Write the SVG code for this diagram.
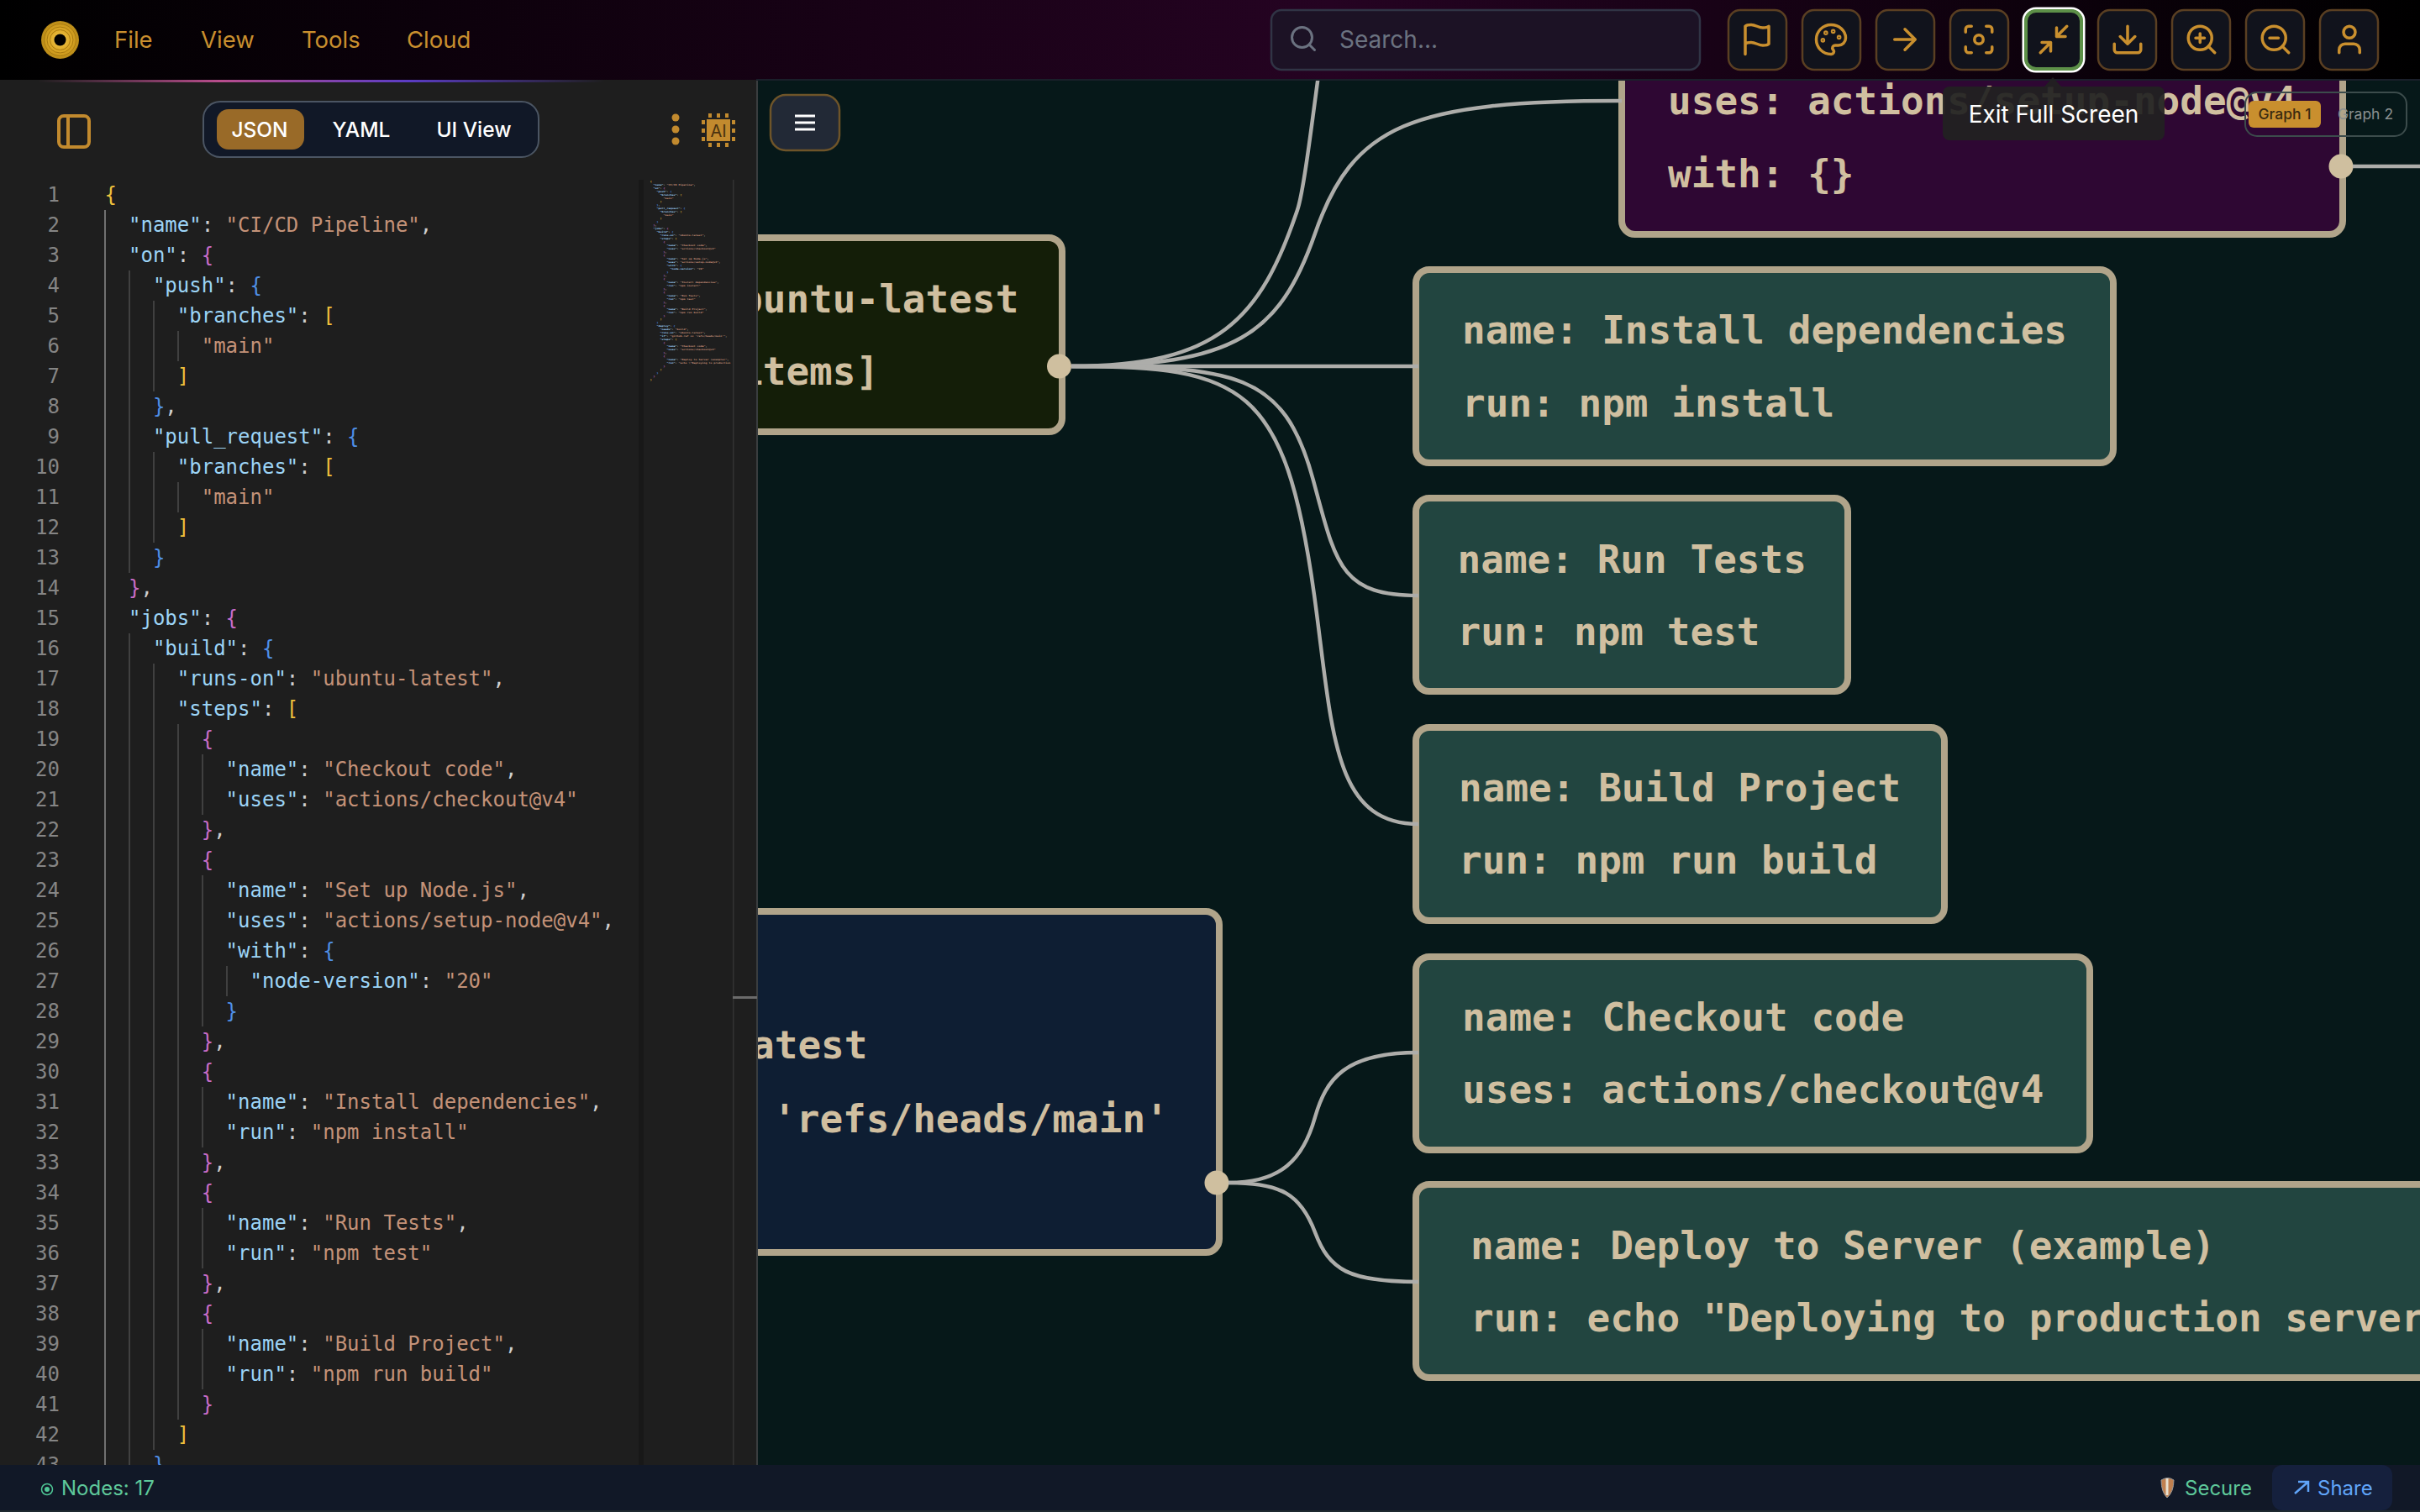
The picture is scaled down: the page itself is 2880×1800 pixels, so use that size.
<svg xmlns="http://www.w3.org/2000/svg" width="2880" height="1800" viewBox="0 0 2880 1800">
<style>
.ui{font-family:Inter,"Liberation Sans",sans-serif}
.menu{font-size:27.5px;font-weight:400;fill:#c98f2e}
.tab{font-size:24.5px;font-weight:500;fill:#fff;text-anchor:middle}
.nd{stroke:#b0a48a;stroke-width:8}
.step{fill:#224540}
.n{font-family:"DejaVu Sans Mono",monospace;font-weight:700;font-size:46px;fill:#d0bfa0}
.h{fill:#cfbf9f}
.edge{fill:none;stroke:#adadaa;stroke-width:4.5}
.btn{fill:#11131c;stroke:#5a3f22;stroke-width:2.5}
.ic{fill:none;stroke:#c98f2e;stroke-width:2;stroke-linecap:round;stroke-linejoin:round}
.code text{font-family:"DejaVu Sans Mono",monospace;font-size:24px;fill:#cfcfcf}
.ln{font-family:"DejaVu Sans Mono",monospace;font-size:24px;fill:#858585;text-anchor:end}
.code .k{fill:#9cd4f6}.code .s{fill:#c49278}.code .y{fill:#efc03c}.code .o{fill:#c86cc8}.code .b{fill:#4f8fe6}
.g1{stroke:#707070;stroke-width:2;fill:none}
.g2{stroke:#404040;stroke-width:2;fill:none}
</style>
<defs>
<linearGradient id="hdr" x1="0" x2="1" y1="0" y2="0"><stop offset="0" stop-color="#000"/><stop offset=".55" stop-color="#250322"/><stop offset="1" stop-color="#000"/></linearGradient>
<linearGradient id="hline" gradientUnits="userSpaceOnUse" x1="0" x2="900" y1="0" y2="0"><stop offset=".05" stop-color="#b84d8c" stop-opacity="0"/><stop offset=".29" stop-color="#b84d8c"/><stop offset=".54" stop-color="#5b3cc4"/><stop offset=".8" stop-color="#5b3cc4" stop-opacity="0"/></linearGradient>
<radialGradient id="gold"><stop offset=".3" stop-color="#e8b838"/><stop offset=".7" stop-color="#d4a020"/><stop offset="1" stop-color="#b88a18"/></radialGradient>
<clipPath id="codeclip"><rect x="0" y="210" width="760" height="1534"/></clipPath>
<clipPath id="miniclip"><rect x="766" y="210" width="106" height="1534"/></clipPath>
<g id="i-flag"><path d="M4 15s1-1 4-1 5 2 8 2 4-1 4-1V3s-1 1-4 1-5-2-8-2-4 1-4 1zM4 22v-7"/></g>
<g id="i-pal"><path d="M12 22a1 1 0 0 1 0-20 10 9 0 0 1 10 9 5 5 0 0 1-5 5h-2.25a1.75 1.75 0 0 0-1.4 2.8l.3.4a1.75 1.75 0 0 1-1.4 2.8z"/><circle cx="13.5" cy="6.5" r=".6"/><circle cx="17.5" cy="10.5" r=".6"/><circle cx="6.5" cy="12.5" r=".6"/><circle cx="8.5" cy="7.5" r=".6"/></g>
<g id="i-arr"><path d="M5 12h14M12 5l7 7-7 7"/></g>
<g id="i-foc"><path d="M3 7V5a2 2 0 0 1 2-2h2M17 3h2a2 2 0 0 1 2 2v2M21 17v2a2 2 0 0 1-2 2h-2M7 21H5a2 2 0 0 1-2-2v-2"/><circle cx="12" cy="12" r="3"/></g>
<g id="i-min"><path d="M4 14h6v6M20 10h-6V4M14 10l7-7M3 21l7-7"/></g>
<g id="i-dl"><path d="M21 15v4a2 2 0 0 1-2 2H5a2 2 0 0 1-2-2v-4M7 10l5 5 5-5M12 15V3"/></g>
<g id="i-zi"><circle cx="11" cy="11" r="8"/><path d="M21 21l-4.35-4.35M11 8v6M8 11h6"/></g>
<g id="i-zo"><circle cx="11" cy="11" r="8"/><path d="M21 21l-4.35-4.35M8 11h6"/></g>
<g id="i-usr"><path d="M19 21v-2a4 4 0 0 0-4-4H9a4 4 0 0 0-4 4v2"/><circle cx="12" cy="7" r="4"/></g>
<g id="c1" class="code">
<text x="124.6" y="240"><tspan class="y">{</tspan></text>
<text x="153" y="276"><tspan class="k">"name"</tspan>: <tspan class="s">"CI/CD Pipeline"</tspan>,</text>
<text x="153" y="312"><tspan class="k">"on"</tspan>: <tspan class="o">{</tspan></text>
<text x="181.9" y="348"><tspan class="k">"push"</tspan>: <tspan class="b">{</tspan></text>
<text x="210.8" y="384"><tspan class="k">"branches"</tspan>: <tspan class="y">[</tspan></text>
<text x="239.7" y="420"><tspan class="s">"main"</tspan></text>
<text x="210.8" y="456"><tspan class="y">]</tspan></text>
<text x="181.9" y="492"><tspan class="b">}</tspan>,</text>
<text x="181.9" y="528"><tspan class="k">"pull_request"</tspan>: <tspan class="b">{</tspan></text>
<text x="210.8" y="564"><tspan class="k">"branches"</tspan>: <tspan class="y">[</tspan></text>
<text x="239.7" y="600"><tspan class="s">"main"</tspan></text>
<text x="210.8" y="636"><tspan class="y">]</tspan></text>
<text x="181.9" y="672"><tspan class="b">}</tspan></text>
<text x="153" y="708"><tspan class="o">}</tspan>,</text>
<text x="153" y="744"><tspan class="k">"jobs"</tspan>: <tspan class="o">{</tspan></text>
<text x="181.9" y="780"><tspan class="k">"build"</tspan>: <tspan class="b">{</tspan></text>
<text x="210.8" y="816"><tspan class="k">"runs-on"</tspan>: <tspan class="s">"ubuntu-latest"</tspan>,</text>
<text x="210.8" y="852"><tspan class="k">"steps"</tspan>: <tspan class="y">[</tspan></text>
<text x="239.7" y="888"><tspan class="o">{</tspan></text>
<text x="268.6" y="924"><tspan class="k">"name"</tspan>: <tspan class="s">"Checkout code"</tspan>,</text>
<text x="268.6" y="960"><tspan class="k">"uses"</tspan>: <tspan class="s">"actions/checkout@v4"</tspan></text>
<text x="239.7" y="996"><tspan class="o">}</tspan>,</text>
<text x="239.7" y="1032"><tspan class="o">{</tspan></text>
<text x="268.6" y="1068"><tspan class="k">"name"</tspan>: <tspan class="s">"Set up Node.js"</tspan>,</text>
<text x="268.6" y="1104"><tspan class="k">"uses"</tspan>: <tspan class="s">"actions/setup-node@v4"</tspan>,</text>
<text x="268.6" y="1140"><tspan class="k">"with"</tspan>: <tspan class="b">{</tspan></text>
<text x="297.5" y="1176"><tspan class="k">"node-version"</tspan>: <tspan class="s">"20"</tspan></text>
<text x="268.6" y="1212"><tspan class="b">}</tspan></text>
<text x="239.7" y="1248"><tspan class="o">}</tspan>,</text>
<text x="239.7" y="1284"><tspan class="o">{</tspan></text>
<text x="268.6" y="1320"><tspan class="k">"name"</tspan>: <tspan class="s">"Install dependencies"</tspan>,</text>
<text x="268.6" y="1356"><tspan class="k">"run"</tspan>: <tspan class="s">"npm install"</tspan></text>
<text x="239.7" y="1392"><tspan class="o">}</tspan>,</text>
<text x="239.7" y="1428"><tspan class="o">{</tspan></text>
<text x="268.6" y="1464"><tspan class="k">"name"</tspan>: <tspan class="s">"Run Tests"</tspan>,</text>
<text x="268.6" y="1500"><tspan class="k">"run"</tspan>: <tspan class="s">"npm test"</tspan></text>
<text x="239.7" y="1536"><tspan class="o">}</tspan>,</text>
<text x="239.7" y="1572"><tspan class="o">{</tspan></text>
<text x="268.6" y="1608"><tspan class="k">"name"</tspan>: <tspan class="s">"Build Project"</tspan>,</text>
<text x="268.6" y="1644"><tspan class="k">"run"</tspan>: <tspan class="s">"npm run build"</tspan></text>
<text x="239.7" y="1680"><tspan class="o">}</tspan></text>
<text x="210.8" y="1716"><tspan class="y">]</tspan></text>
<text x="181.9" y="1752"><tspan class="b">}</tspan></text>
</g>
<g id="c2" class="code">
<text x="181.9" y="1788"><tspan class="k">"deploy"</tspan>: <tspan class="b">{</tspan></text>
<text x="210.8" y="1824"><tspan class="k">"needs"</tspan>: <tspan class="s">"build"</tspan>,</text>
<text x="210.8" y="1860"><tspan class="k">"runs-on"</tspan>: <tspan class="s">"ubuntu-latest"</tspan>,</text>
<text x="210.8" y="1896"><tspan class="k">"if"</tspan>: <tspan class="s">"github.ref == 'refs/heads/main'"</tspan>,</text>
<text x="210.8" y="1932"><tspan class="k">"steps"</tspan>: <tspan class="y">[</tspan></text>
<text x="239.7" y="1968"><tspan class="o">{</tspan></text>
<text x="268.6" y="2004"><tspan class="k">"name"</tspan>: <tspan class="s">"Checkout code"</tspan>,</text>
<text x="268.6" y="2040"><tspan class="k">"uses"</tspan>: <tspan class="s">"actions/checkout@v4"</tspan></text>
<text x="239.7" y="2076"><tspan class="o">}</tspan>,</text>
<text x="239.7" y="2112"><tspan class="o">{</tspan></text>
<text x="268.6" y="2148"><tspan class="k">"name"</tspan>: <tspan class="s">"Deploy to Server (example)"</tspan>,</text>
<text x="268.6" y="2184"><tspan class="k">"run"</tspan>: <tspan class="s">"echo \"Deploying to production</tspan></text>
<text x="239.7" y="2220"><tspan class="o">}</tspan></text>
<text x="210.8" y="2256"><tspan class="y">]</tspan></text>
<text x="181.9" y="2292"><tspan class="b">}</tspan></text>
<text x="153" y="2328"><tspan class="o">}</tspan></text>
<text x="124.6" y="2364"><tspan class="y">}</tspan></text>
</g>
</defs>

<rect id="canvas" x="0" y="0" width="2880" height="1800" fill="#061819"/>

<g id="nodes">
<g id="node-build"><rect class="nd" x="700" y="283" width="564" height="231" rx="16" fill="#141e08"/><text class="n" x="880" y="372">buntu-latest</text><text class="n" x="880" y="458">items]</text><circle class="h" cx="1260.5" cy="436" r="14.5"/></g>
<g id="node-setup"><rect class="nd" x="1930" y="47" width="858" height="232" rx="16" fill="#2e0733"/><text class="n" x="1985" y="136">uses: actions/setup-node@v4</text><text class="n" x="1985" y="223">with: {}</text><circle class="h" cx="2786" cy="198" r="14.5"/></g>
<g id="node-install"><rect class="nd step" x="1685" y="321" width="830" height="230" rx="16"/><text class="n" x="1740" y="409">name: Install dependencies</text><text class="n" x="1740" y="496">run: npm install</text></g>
<g id="node-tests"><rect class="nd step" x="1685" y="593" width="514" height="230" rx="16"/><text class="n" x="1734.5" y="682">name: Run Tests</text><text class="n" x="1734.5" y="768">run: npm test</text></g>
<g id="node-buildproj"><rect class="nd step" x="1685" y="866" width="629" height="230" rx="16"/><text class="n" x="1736" y="954">name: Build Project</text><text class="n" x="1736" y="1040">run: npm run build</text></g>
<g id="node-deployjob"><rect class="nd" x="700" y="1085" width="751" height="406" rx="16" fill="#0e1e33"/><text class="n" x="894" y="1260">atest</text><text class="n" x="920" y="1348">'refs/heads/main'</text><circle class="h" cx="1448" cy="1408" r="14.5"/></g>
<g id="node-checkout2"><rect class="nd step" x="1685" y="1139" width="802" height="230" rx="16"/><text class="n" x="1740" y="1227">name: Checkout code</text><text class="n" x="1740" y="1313">uses: actions/checkout@v4</text></g>
<g id="node-deploy"><rect class="nd step" x="1685" y="1410" width="1300" height="230" rx="16"/><text class="n" x="1750" y="1499">name: Deploy to Server (example)</text><text class="n" x="1750" y="1585">run: echo "Deploying to production server</text></g>
</g>

<g id="connectors">
<path class="edge" d="M1275 436C1450 436 1500 380 1544 250C1552 226 1562 140 1573 60"/>
<path class="edge" d="M1275 436C1470 436 1523 398 1565 278C1610 148 1680 120 1930 120"/>
<path class="edge" d="M1275 436H1688"/>
<path class="edge" d="M1275 436C1470 436 1528 442 1563 572C1590 672 1595 709 1688 709"/>
<path class="edge" d="M1275 436C1480 436 1529 458 1564 708C1586 868 1585 981 1688 981"/>
<path class="edge" d="M2800 198H2880"/>
<path class="edge" d="M1462 1408C1525 1408 1551 1380 1565 1330C1578 1285 1600 1253 1688 1253"/>
<path class="edge" d="M1462 1408C1525 1408 1548 1422 1565 1467C1582 1512 1605 1526 1688 1526"/>
</g>

<g id="menu-button"><rect x="917" y="113" width="82" height="66" rx="18" fill="#222936" stroke="#6e5429" stroke-width="2.5"/><path d="M946 138h24M946 146h24M946 154h24" stroke="#fff" stroke-width="3" fill="none"/></g>

<g id="editor">
<rect x="0" y="95" width="901" height="1650" fill="#1e1e1e"/>
<rect x="900" y="96" width="2" height="1648" fill="#3a3d3f"/>
<path class="g1" d="M125 250V1744"/>
<path class="g2" d="M154 322V682M154 754V1744M183 358V466M183 538V646M183 790V1726M212 394V430M212 574V610M212 862V1690M241 898V970M241 1042V1222M241 1294V1366M241 1438V1510M241 1582V1654M270 1150V1186"/>
<g id="line-numbers">
<text class="ln" x="71" y="240">1</text><text class="ln" x="71" y="276">2</text><text class="ln" x="71" y="312">3</text><text class="ln" x="71" y="348">4</text><text class="ln" x="71" y="384">5</text><text class="ln" x="71" y="420">6</text><text class="ln" x="71" y="456">7</text><text class="ln" x="71" y="492">8</text><text class="ln" x="71" y="528">9</text><text class="ln" x="71" y="564">10</text><text class="ln" x="71" y="600">11</text><text class="ln" x="71" y="636">12</text><text class="ln" x="71" y="672">13</text><text class="ln" x="71" y="708">14</text><text class="ln" x="71" y="744">15</text><text class="ln" x="71" y="780">16</text><text class="ln" x="71" y="816">17</text><text class="ln" x="71" y="852">18</text><text class="ln" x="71" y="888">19</text><text class="ln" x="71" y="924">20</text><text class="ln" x="71" y="960">21</text><text class="ln" x="71" y="996">22</text><text class="ln" x="71" y="1032">23</text><text class="ln" x="71" y="1068">24</text><text class="ln" x="71" y="1104">25</text><text class="ln" x="71" y="1140">26</text><text class="ln" x="71" y="1176">27</text><text class="ln" x="71" y="1212">28</text><text class="ln" x="71" y="1248">29</text><text class="ln" x="71" y="1284">30</text><text class="ln" x="71" y="1320">31</text><text class="ln" x="71" y="1356">32</text><text class="ln" x="71" y="1392">33</text><text class="ln" x="71" y="1428">34</text><text class="ln" x="71" y="1464">35</text><text class="ln" x="71" y="1500">36</text><text class="ln" x="71" y="1536">37</text><text class="ln" x="71" y="1572">38</text><text class="ln" x="71" y="1608">39</text><text class="ln" x="71" y="1644">40</text><text class="ln" x="71" y="1680">41</text><text class="ln" x="71" y="1716">42</text>
<g clip-path="url(#codeclip)"><text class="ln" x="71" y="1752">43</text></g>
</g>
<g clip-path="url(#codeclip)"><use href="#c1"/></g>
<rect x="760" y="214" width="6" height="1530" fill="#181818"/>
<g clip-path="url(#miniclip)" font-weight="700"><g transform="translate(756.4 190.25) scale(.1384 .111)"><use href="#c1"/><use href="#c2"/></g></g>
<rect x="872" y="214" width="1.5" height="1530" fill="#333"/>
<rect x="872" y="1186" width="29" height="3" fill="#6b6b6b"/>

<g id="panel-icon" fill="none" stroke="#c28a2e" stroke-width="4"><rect x="70" y="138" width="36" height="37" rx="6"/><path d="M81 138V175"/></g>
<g id="format-tabs">
<rect x="242" y="121" width="399" height="66" rx="20" fill="#111827" stroke="#4b5563" stroke-width="2"/>
<rect x="258" y="130" width="104" height="48" rx="14" fill="#996a28"/>
<text class="ui tab" x="309" y="163">JSON</text>
<text class="ui tab" x="430" y="163">YAML</text>
<text class="ui tab" x="564" y="163">UI View</text>
</g>
<g id="kebab" fill="#c28a2e"><circle cx="804" cy="140" r="4.5"/><circle cx="804" cy="154" r="4.5"/><circle cx="804" cy="168" r="4.5"/></g>
<g id="ai-chip" fill="#c28a2e">
<rect x="841" y="142" width="28" height="26"/>
<rect x="843" y="135" width="4" height="5"/><rect x="853" y="135" width="4" height="5"/><rect x="863" y="135" width="4" height="5"/>
<rect x="843" y="170" width="4" height="5"/><rect x="853" y="170" width="4" height="5"/><rect x="863" y="170" width="4" height="5"/>
<rect x="835" y="143" width="4" height="5"/><rect x="835" y="153" width="4" height="5"/><rect x="835" y="163" width="4" height="5"/>
<rect x="871" y="143" width="4" height="5"/><rect x="871" y="153" width="4" height="5"/><rect x="871" y="163" width="4" height="5"/>
<text class="ui" x="855" y="163" font-size="20" fill="#4a3210" text-anchor="middle">AI</text>
</g>
</g>

<g id="header">
<rect x="0" y="0" width="2880" height="95" fill="url(#hdr)"/>
<rect x="900" y="94" width="1980" height="2" fill="#1a1f2a"/>
<rect x="0" y="95" width="900" height="3" fill="url(#hline)"/>
<g id="logo"><circle cx="71.5" cy="47.5" r="22.5" fill="url(#gold)"/><g fill="none" stroke="#a87a10" stroke-width="1"><circle cx="71.5" cy="47.5" r="19"/><circle cx="71.5" cy="47.5" r="15.5"/><circle cx="71.5" cy="47.5" r="12"/></g><circle cx="71.5" cy="47.5" r="7" fill="#000"/></g>
<text class="ui menu" x="136" y="57">File</text>
<text class="ui menu" x="239" y="57">View</text>
<text class="ui menu" x="359" y="57">Tools</text>
<text class="ui menu" x="484" y="57">Cloud</text>
<g id="search"><rect x="1513" y="12" width="510" height="71" rx="12" fill="#1c1225" stroke="#303445" stroke-width="2.5"/><g transform="translate(1533 28) scale(1.5)" fill="none" stroke="#6b7280" stroke-width="2" stroke-linecap="round"><circle cx="11" cy="11" r="8"/><path d="M21 21l-4.35-4.35"/></g><text class="ui" x="1594" y="57" font-size="28" fill="#6b7280">Search...</text></g>
<g id="toolbar">
<rect class="btn" x="2057" y="12" width="69" height="71" rx="14"/><use class="ic" href="#i-flag" transform="translate(2070 26) scale(1.75)"/>
<rect class="btn" x="2145" y="12" width="69" height="71" rx="14"/><use class="ic" href="#i-pal" transform="translate(2158 26) scale(1.75)"/>
<rect class="btn" x="2233" y="12" width="69" height="71" rx="14"/><use class="ic" href="#i-arr" transform="translate(2246 26) scale(1.75)"/>
<rect class="btn" x="2321" y="12" width="69" height="71" rx="14"/><use class="ic" href="#i-foc" transform="translate(2334 26) scale(1.75)"/>
<rect x="2408" y="10" width="72" height="75" rx="15" fill="#11131c" stroke="#fff" stroke-width="3"/><rect x="2411" y="13" width="66" height="69" rx="12" fill="none" stroke="#5d9048" stroke-width="4"/><use class="ic" href="#i-min" transform="translate(2423 26) scale(1.75)"/>
<rect class="btn" x="2497" y="12" width="69" height="71" rx="14"/><use class="ic" href="#i-dl" transform="translate(2511 26) scale(1.75)"/>
<rect class="btn" x="2585" y="12" width="69" height="71" rx="14"/><use class="ic" href="#i-zi" transform="translate(2599 26) scale(1.75)"/>
<rect class="btn" x="2673" y="12" width="69" height="71" rx="14"/><use class="ic" href="#i-zo" transform="translate(2687 26) scale(1.75)"/>
<rect class="btn" x="2761" y="12" width="69" height="71" rx="14"/><use class="ic" href="#i-usr" transform="translate(2775 26) scale(1.75)"/>
</g>
</g>

<g id="graph-tabs">
<rect x="2672" y="110" width="192" height="52" rx="14" fill="none" stroke="#3c4c4c" stroke-width="2"/>
<rect x="2676" y="120" width="86" height="32" rx="6" fill="#c98f2e"/>
<text class="ui" x="2719" y="142" font-size="17.5" font-weight="500" fill="#3a2a10" text-anchor="middle">Graph 1</text>
<text class="ui" x="2815" y="142" font-size="17.5" fill="#8a9090" text-anchor="middle">Graph 2</text>
</g>

<g id="tooltip">
<path d="M2433 103L2443 92L2453 103Z" fill="#212121" fill-opacity=".93"/>
<rect x="2312" y="103" width="264" height="64" rx="8" fill="#212121" fill-opacity=".93"/>
<text class="ui" x="2444" y="146" font-size="28" fill="#fff" text-anchor="middle">Exit Full Screen</text>
</g>

<g id="statusbar">
<rect x="0" y="1744" width="2880" height="54" fill="#111827"/>
<rect x="0" y="1798" width="2880" height="2" fill="#1e2a30"/>
<circle cx="56" cy="1773" r="6.5" fill="none" stroke="#4fc796" stroke-width="1.5"/><circle cx="56" cy="1773" r="3" fill="#4fc796"/>
<text class="ui" x="73" y="1780" font-size="24" fill="#5ec89a">Nodes: 17</text>
<path d="M2572 1762Q2580 1757 2587 1762Q2587 1776 2579 1783Q2572 1776 2572 1762Z" fill="#c08050" stroke="#9a9a9a" stroke-width="1"/><path d="M2579 1760V1780" stroke="#e8e0d0" stroke-width="3"/>
<text class="ui" x="2600" y="1780" font-size="24" fill="#5ec89a">Secure</text>
<rect x="2704" y="1744" width="143" height="54" rx="12" fill="#15203d"/>
<path d="M2731 1778L2747 1764M2735 1764H2747V1776" fill="none" stroke="#60a5fa" stroke-width="2.5"/>
<text class="ui" x="2758" y="1780" font-size="24" fill="#60a5fa">Share</text>
</g>
</svg>
